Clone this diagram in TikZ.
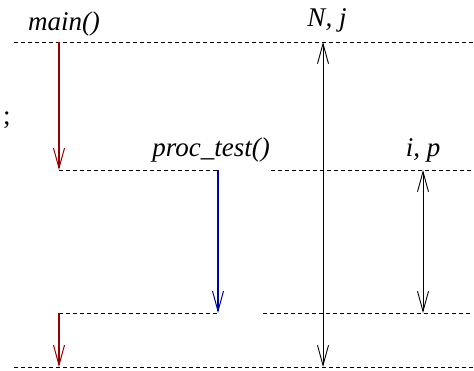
\documentclass[tikz,border=0pt]{standalone}
\usepackage{fontspec}
\setmainfont{Liberation Serif}
\usetikzlibrary{arrows.meta}
\definecolor{callred}{RGB}{150,0,0}
\definecolor{callblue}{RGB}{0,0,160}

\begin{document}
\begin{tikzpicture}[x=1pt, y=-1pt,
  level/.style={dashed, dash pattern=on 4pt off 3pt, line width=0.8pt},
  call/.style={line width=1.5pt, -{Straight Barb[length=20pt,width=11pt,line width=1pt]}},
  span/.style={line width=0.9pt, {Straight Barb[length=20pt,width=11pt]}-{Straight Barb[length=20pt,width=11pt]}},
  lbl/.style={font=\fontsize{27}{31}\selectfont\itshape, inner sep=0pt}]
  \useasboundingbox (0,0) rectangle (474,370);
  % niveaux
  \coordinate (A0) at (14,42);   \coordinate (A1) at (474,42);
  \coordinate (B0) at (59,170);  \coordinate (B1) at (218,170);
  \coordinate (B2) at (271,170); \coordinate (B3) at (474,170);
  \coordinate (C0) at (59,313);  \coordinate (C1) at (218,313);
  \coordinate (C2) at (263,313); \coordinate (C3) at (472,313);
  \coordinate (D0) at (14,367);  \coordinate (D1) at (474,367);
  \coordinate (M0) at (59,42);
  \coordinate (M1) at (59,367);
  \coordinate (N0) at (323,42);  \coordinate (N1) at (323,367);
  \coordinate (I0) at (423,170); \coordinate (I1) at (423,313);
  \draw[level] (A0) -- (A1);
  \draw[level] (B0) -- (B1);
  \draw[level] (B2) -- (B3);
  \draw[level] (C0) -- (C1);
  \draw[level] (C2) -- (C3);
  \draw[level] (D0) -- (D1);
  % appels
  \draw[call, callred] (M0) -- (B0);
  \draw[call, callblue] (B1) -- (C1);
  \draw[call, callred] (C0) -- (M1);
  % portees
  \draw[span] (N0) -- (N1);
  \draw[span] (I0) -- (I1);
  \node[lbl] (main) at (64,24) {main()};
  \node[lbl] (proc) at (211,150) {proc\_test()};
  \node[lbl] (nj) at (327,20) {N, j};
  \node[lbl] (ip) at (423,150) {i, p};
  \node[lbl, font=\fontsize{27}{31}\selectfont] (semi) at (7,120) {;};
\end{tikzpicture}
\end{document}
